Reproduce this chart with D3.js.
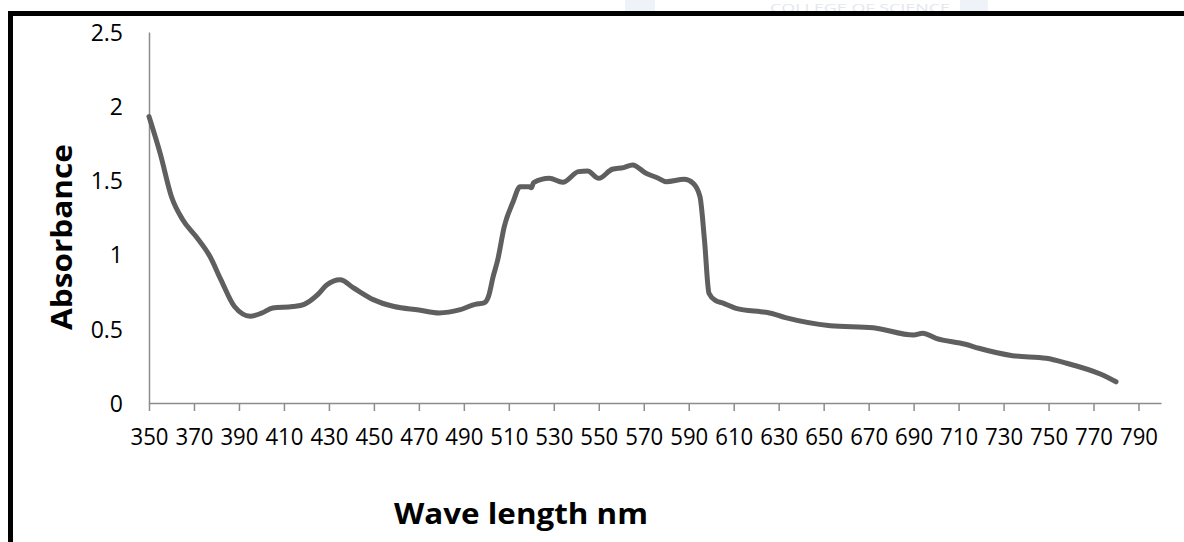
<!DOCTYPE html>
<html>
<head>
<meta charset="utf-8">
<script src="https://cdn.jsdelivr.net/npm/d3@7"></script>
<style>
  body { margin: 0; background: #fff; }
  svg { display: block; }
</style>
</head>
<body>
<div id="container"></div>
<script>
/**
 * CONSTANTS AND GLOBALS
 * */
const width = 1184,
  height = 542,
  margin = { top: 32, left: 149, right: 23, bottom: 139 };

// wavelength (nm) and absorbance
const wavelengths = [350, 355, 360, 365, 371, 377, 382, 388, 395, 400, 405, 414, 419, 425, 429, 435, 441, 450, 459, 470,
  479, 488, 495, 499, 501, 503, 505, 508, 512, 515, 519, 520, 521, 528, 534, 541, 545, 550, 556, 561,
  565, 571, 576, 580, 588, 592, 595, 597, 599, 602, 605, 611, 622, 625, 633, 653, 672, 690, 694, 700,
  713, 719, 734, 749, 758, 773, 780];
const absorbance = [1.93, 1.68, 1.39, 1.235, 1.12, 0.99, 0.83, 0.65, 0.585, 0.605, 0.64, 0.65, 0.665, 0.73, 0.795, 0.83, 0.775, 0.695, 0.65, 0.627,
  0.607, 0.627, 0.665, 0.675, 0.72, 0.85, 0.96, 1.19, 1.36, 1.458, 1.458, 1.45, 1.485, 1.514, 1.487, 1.559, 1.563, 1.514, 1.575, 1.586,
  1.604, 1.548, 1.518, 1.491, 1.507, 1.48, 1.39, 1.098, 0.74, 0.69, 0.675, 0.638, 0.615, 0.61, 0.575, 0.521, 0.507, 0.458, 0.47, 0.436,
  0.396, 0.369, 0.319, 0.301, 0.268, 0.195, 0.143];

const xTicks = d3.range(350, 791, 20);
const yTicks = [0, 0.5, 1, 1.5, 2, 2.5];

const data = wavelengths.map((w, i) => ({ w: w, a: absorbance[i] }));

const svg = d3.select("#container")
  .append("svg")
  .attr("width", width)
  .attr("height", height);

// faint watermark peeking above the frame
svg.append("rect").attr("x", 625).attr("y", 0).attr("width", 30).attr("height", 12).attr("fill", "#eef3fa");
svg.append("rect").attr("x", 960).attr("y", 0).attr("width", 28).attr("height", 12).attr("fill", "#eef3fa");
svg.append("text")
  .attr("x", 770)
  .attr("y", 11.5)
  .attr("font-family", "Open Sans, sans-serif")
  .attr("font-size", 10)
  .attr("textLength", 180)
  .attr("lengthAdjust", "spacingAndGlyphs")
  .attr("fill", "#e3e7ee")
  .text("COLLEGE OF SCIENCE");

// white chart area with the thick black frame
svg.append("rect")
  .attr("x", 10.5)
  .attr("y", 13.5)
  .attr("width", 1300)
  .attr("height", 700)
  .attr("fill", "#fff")
  .attr("stroke", "#000")
  .attr("stroke-width", 5);

const x = d3.scaleLinear()
  .domain([350, 800])
  .range([margin.left, width - margin.right]);

const y = d3.scaleLinear()
  .domain([0, 2.5])
  .range([height - margin.bottom, margin.top]);

// x axis
const xAxis = svg.append("g")
  .attr("transform", `translate(0,${y(0)})`)
  .call(d3.axisBottom(x).tickValues(xTicks).tickSize(8).tickSizeOuter(0).tickFormat(d3.format("d")));
xAxis.select(".domain").attr("stroke", "#8c8c8c").attr("stroke-width", 1.5);
xAxis.selectAll(".tick line").attr("stroke", "#8c8c8c").attr("stroke-width", 1.5);
xAxis.selectAll(".tick text")
  .attr("y", 42)
  .attr("dy", 0)
  .attr("font-family", "Open Sans, sans-serif")
  .attr("font-size", 23)
  .attr("textLength", 38)
  .attr("lengthAdjust", "spacingAndGlyphs")
  .attr("fill", "#000");

// y axis (no tick marks)
const yAxis = svg.append("g")
  .attr("transform", `translate(${x(350)},0)`)
  .call(d3.axisLeft(y).tickValues(yTicks).tickSize(0).tickFormat(d => d));
yAxis.select(".domain").attr("stroke", "#8c8c8c").attr("stroke-width", 1.5);
yAxis.selectAll(".tick text")
  .attr("x", -26)
  .attr("dy", "0.36em")
  .attr("font-family", "Open Sans, sans-serif")
  .attr("font-size", 23)
  .attr("fill", "#000");

// spectrum line
const line = d3.line()
  .x(d => x(d.w))
  .y(d => y(d.a))
  .curve(d3.curveMonotoneX);

svg.append("path")
  .datum(data)
  .attr("fill", "none")
  .attr("stroke", "#5f5f5f")
  .attr("stroke-width", 5)
  .attr("stroke-linejoin", "round")
  .attr("stroke-linecap", "round")
  .attr("d", line);

// axis titles
svg.append("text")
  .attr("x", 521)
  .attr("y", 524)
  .attr("text-anchor", "middle")
  .attr("font-family", "Open Sans, sans-serif")
  .attr("font-weight", "bold")
  .attr("font-size", 28)
  .attr("textLength", 254)
  .attr("lengthAdjust", "spacingAndGlyphs")
  .text("Wave length nm");

svg.append("text")
  .attr("transform", "translate(72,237) rotate(-90)")
  .attr("text-anchor", "middle")
  .attr("font-family", "Open Sans, sans-serif")
  .attr("font-weight", "bold")
  .attr("font-size", 28)
  .attr("textLength", 186)
  .attr("lengthAdjust", "spacingAndGlyphs")
  .text("Absorbance");
</script>
</body>
</html>
